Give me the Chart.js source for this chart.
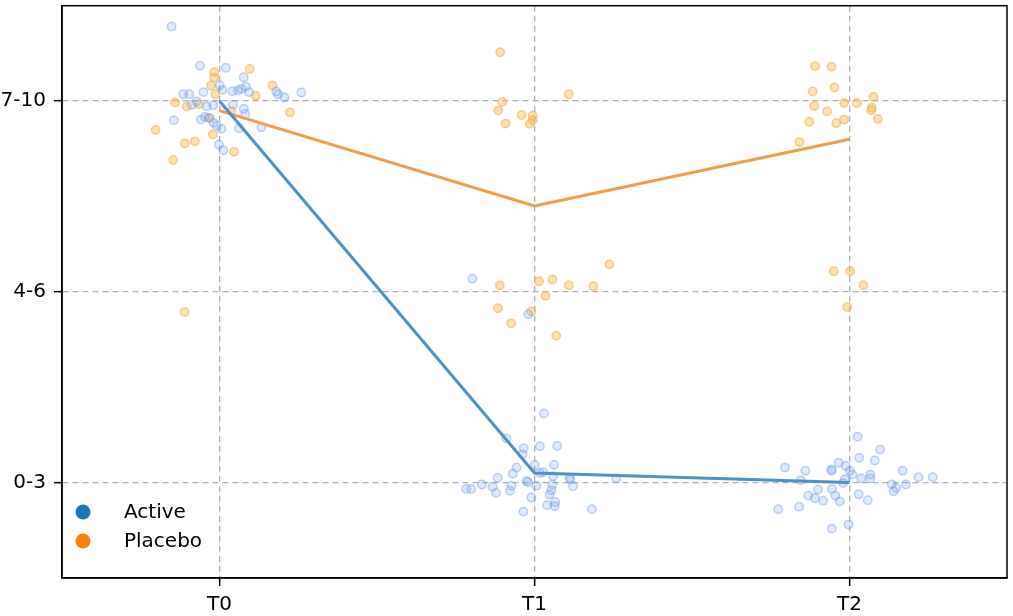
<!DOCTYPE html>
<html>
<head>
<meta charset="utf-8">
<script src="https://cdn.jsdelivr.net/npm/chart.js@4"></script>
<style>
  html, body { margin: 0; padding: 0; background: #fff; }
  #wrap { width: 1013px; height: 616px; position: relative; }
</style>
</head>
<body>
<div id="wrap"><canvas id="scoreChart"></canvas></div>
<script>
// categories and tick labels
const timepoints = ['T0', 'T1', 'T2'];
const scoreBands = ['0-3', '4-6', '7-10'];
const groupNames = ['Active', 'Placebo'];

// group means per timepoint (y in band units: 0 = 0-3, 1 = 4-6, 2 = 7-10)
const activeMean = [2.0, 0.05, 0.0];
const placeboMean = [1.95, 1.45, 1.80];

// individual jittered responses [x, y]
const activePoints = [
    [-0.152, 2.391], [-0.062, 2.185], [0.020, 2.175], [0.077, 2.125], [0.001, 2.082],
    [0.009, 2.059], [-0.115, 2.036], [-0.096, 2.036], [-0.051, 2.047], [0.041, 2.052],
    [0.059, 2.056], [0.069, 2.064], [0.084, 2.076], [0.094, 2.047], [0.180, 2.050],
    [0.186, 2.036], [0.206, 2.019], [0.260, 2.045], [-0.073, 1.998], [-0.088, 1.981],
    [-0.041, 1.972], [-0.020, 1.978], [0.043, 1.981], [0.077, 1.960], [0.082, 1.932],
    [-0.145, 1.900], [-0.059, 1.903], [-0.046, 1.917], [-0.034, 1.912], [-0.019, 1.886],
    [-0.009, 1.872], [0.006, 1.855], [0.062, 1.858], [0.133, 1.863], [-0.002, 1.773],
    [0.012, 1.742],
    [0.803, 1.069], [0.980, 0.882], [1.030, 0.362], [0.911, 0.232], [0.966, 0.180],
    [1.017, 0.191], [1.072, 0.192], [0.962, 0.149], [0.943, 0.079], [0.931, 0.047],
    [1.001, 0.092], [1.062, 0.094], [0.883, 0.026], [1.017, 0.050], [1.027, 0.054],
    [1.059, 0.033], [1.111, 0.024], [1.114, 0.016], [1.260, 0.022], [0.975, 0.009],
    [0.979, 0.002], [0.833, -0.010], [0.867, -0.022], [0.927, -0.016], [1.006, -0.016],
    [1.057, -0.010], [1.122, -0.019], [0.783, -0.033], [0.799, -0.033], [0.878, -0.054],
    [0.922, -0.043], [1.054, -0.040], [1.048, -0.062], [0.990, -0.078], [1.066, -0.102],
    [1.040, -0.118], [1.064, -0.123], [1.182, -0.140], [0.965, -0.152],
    [2.026, 0.241], [2.097, 0.173], [2.031, 0.130], [2.080, 0.116], [1.795, 0.079],
    [1.860, 0.062], [1.943, 0.069], [1.943, 0.062], [1.966, 0.104], [1.988, 0.087],
    [2.001, 0.062], [2.009, 0.042], [2.169, 0.062], [2.066, 0.042], [2.066, 0.022],
    [2.037, 0.022], [2.219, 0.028], [2.264, 0.028], [1.845, 0.012], [1.985, 0.016],
    [1.980, -0.002], [2.134, -0.009], [2.179, -0.010], [2.148, -0.028], [2.140, -0.045],
    [1.900, -0.036], [1.944, -0.033], [1.869, -0.068], [1.890, -0.082], [1.916, -0.095],
    [1.955, -0.068], [1.969, -0.099], [2.029, -0.061], [2.058, -0.092], [1.774, -0.140],
    [1.840, -0.126], [1.997, -0.220], [1.944, -0.241]
];

const placeboPoints = [
    [0.096, 2.168], [-0.017, 2.152], [-0.017, 2.123], [-0.027, 2.082], [-0.013, 2.036],
    [0.168, 2.082], [0.115, 2.028], [-0.141, 1.993], [-0.104, 1.972], [-0.065, 1.984],
    [0.038, 1.947], [0.224, 1.941], [-0.031, 1.912], [-0.203, 1.849], [-0.021, 1.825],
    [-0.110, 1.778], [-0.078, 1.789], [0.046, 1.734], [-0.147, 1.691], [-0.111, 0.895],
    [0.891, 2.256], [1.109, 2.036], [0.898, 1.996], [0.885, 1.950], [0.959, 1.927],
    [0.994, 1.924], [0.994, 1.900], [0.908, 1.882], [0.985, 1.881],
    [1.238, 1.144], [0.890, 1.034], [1.014, 1.055], [1.057, 1.065], [1.109, 1.035],
    [1.187, 1.029], [1.035, 0.980], [0.884, 0.914], [0.990, 0.897], [0.926, 0.835],
    [1.069, 0.770],
    [1.891, 2.183], [1.943, 2.180], [1.883, 2.050], [1.952, 2.071], [2.076, 2.022],
    [1.888, 1.974], [1.983, 1.990], [2.024, 1.990], [2.071, 1.965], [2.069, 1.952],
    [1.929, 1.946], [2.090, 1.906], [1.872, 1.892], [1.983, 1.903], [1.958, 1.884],
    [1.841, 1.785],
    [1.950, 1.108], [2.002, 1.108], [2.044, 1.035], [1.993, 0.921]
];

const legendColors = ['#1f77b4', '#ff7f0e'];
const FONT = '"DejaVu Sans", sans-serif';

// legend drawn inside the plot, bottom-left, plus the full black frame
const frameAndLegend = {
    id: 'frameAndLegend',
    afterDraw(chart) {
        const { ctx, chartArea } = chart;
        ctx.save();
        ctx.strokeStyle = '#000';
        ctx.lineWidth = 1.5;
        ctx.strokeRect(chartArea.left, chartArea.top,
            chartArea.right - chartArea.left, chartArea.bottom - chartArea.top);

        ctx.font = '20px ' + FONT;
        ctx.textBaseline = 'middle';
        groupNames.forEach((name, i) => {
            const y = chartArea.bottom - 66 + i * 29;
            ctx.beginPath();
            ctx.fillStyle = legendColors[i];
            ctx.arc(chartArea.left + 21, y, 7.5, 0, Math.PI * 2);
            ctx.fill();
            ctx.fillStyle = '#000';
            ctx.fillText(name, chartArea.left + 62, y + 1);
        });
        ctx.restore();
    }
};

const toXY = arr => arr.map(p => ({ x: p[0], y: p[1] }));
const meanXY = arr => arr.map((v, i) => ({ x: i, y: v }));

// drop the label overhang padding Chart.js reserves at the axis ends
const noEndPadding = axis => {
    axis.paddingTop = 0;
    axis.paddingBottom = 0;
    axis.paddingLeft = 0;
    axis.paddingRight = 0;
};

const axisGrid = {
    color: '#b0b0b0',
    lineWidth: 1.3,
    tickColor: '#000',
    tickLength: 8,
    tickWidth: 1.5,
    tickBorderDash: []
};

const ctx = document.getElementById('scoreChart').getContext('2d');
new Chart(ctx, {
    data: {
        datasets: [
            {
                type: 'line',
                label: groupNames[0],
                data: meanXY(activeMean),
                borderColor: '#4e91c3',
                borderWidth: 3,
                pointRadius: 0,
                order: 0
            },
            {
                type: 'line',
                label: groupNames[1],
                data: meanXY(placeboMean),
                borderColor: '#f29d48',
                borderWidth: 3,
                pointRadius: 0,
                order: 0
            },
            {
                type: 'scatter',
                label: groupNames[1] + ' responses',
                data: toXY(placeboPoints),
                backgroundColor: 'rgba(246, 184, 80, 0.42)',
                borderColor: 'rgba(242, 172, 60, 0.55)',
                borderWidth: 1.5,
                pointRadius: 4.2,
                order: 2
            },
            {
                type: 'scatter',
                label: groupNames[0] + ' responses',
                data: toXY(activePoints),
                backgroundColor: 'rgba(100, 149, 237, 0.2)',
                borderColor: 'rgba(100, 149, 237, 0.42)',
                borderWidth: 1.5,
                pointRadius: 4.2,
                order: 1
            }
        ]
    },
    options: {
        responsive: true,
        maintainAspectRatio: false,
        animation: false,
        devicePixelRatio: 1,
        layout: { padding: { top: 3, right: 6, left: 0, bottom: 0 } },
        plugins: {
            legend: { display: false },
            tooltip: { enabled: false }
        },
        scales: {
            x: {
                type: 'linear',
                min: -0.5,
                max: 2.5,
                afterBuildTicks: axis => { axis.ticks = timepoints.map((t, i) => ({ value: i })); },
                afterFit: axis => { axis.height = 38; noEndPadding(axis); },
                ticks: {
                    callback: v => timepoints[v],
                    color: '#000',
                    font: { family: FONT, size: 20 },
                    padding: 7,
                    maxRotation: 0
                },
                grid: axisGrid,
                border: { color: '#000', width: 1.5, dash: [6, 4] }
            },
            y: {
                type: 'linear',
                min: -0.5,
                max: 2.5,
                afterBuildTicks: axis => { axis.ticks = scoreBands.map((b, i) => ({ value: i })); },
                afterFit: axis => { axis.width = 62; noEndPadding(axis); },
                ticks: {
                    callback: v => scoreBands[v],
                    color: '#000',
                    font: { family: FONT, size: 20 },
                    padding: 8
                },
                grid: axisGrid,
                border: { color: '#000', width: 1.5, dash: [6, 4] }
            }
        }
    },
    plugins: [frameAndLegend]
});
</script>
</body>
</html>
